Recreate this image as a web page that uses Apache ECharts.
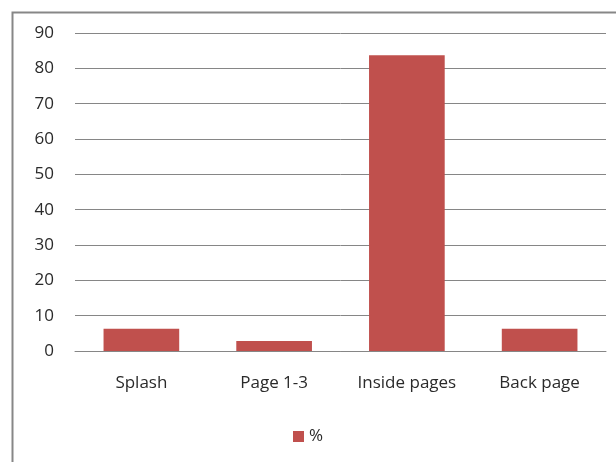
<!DOCTYPE html>
<html>
<head>
<meta charset="utf-8">
<script src="https://cdn.jsdelivr.net/npm/echarts@6/dist/echarts.min.js"></script>
<style>
html,body{margin:0;padding:0;background:#fff;}
#c{width:616px;height:462px;}
</style>
</head>
<body>
<div id="c"></div>
<script>
const categories = ['Splash', 'Page 1-3', 'Inside pages', 'Back page'];
const values = [6.3, 2.8, 83.7, 6.3];
const seriesName = '%';
const yMin = 0, yMax = 90, yStep = 10;

const chart = echarts.init(document.getElementById('c'));
chart.setOption({
  animation: false,
  backgroundColor: '#fff',
  textStyle: { fontFamily: 'Open Sans' },
  graphic: [{
    type: 'rect', left: 10, top: 10,
    shape: { width: 640, height: 500 },
    style: { fill: 'none', stroke: '#878787', lineWidth: 2 },
    silent: true
  }],
  grid: { left: 75, right: 10, top: 33, bottom: 111 },
  legend: {
    data: [seriesName], bottom: 12, left: 'center',
    itemWidth: 11, itemHeight: 11, icon: 'rect', itemGap: 6,
    textStyle: { fontSize: 17, color: '#2a2a2a', fontFamily: 'Open Sans' }
  },
  xAxis: {
    type: 'category', data: categories,
    axisLine: { lineStyle: { color: '#868686' } },
    axisTick: { show: false },
    axisLabel: { fontSize: 17, color: '#2a2a2a', margin: 24, fontFamily: 'Open Sans' }
  },
  yAxis: {
    type: 'value', min: yMin, max: yMax, interval: yStep,
    axisLine: { show: false }, axisTick: { show: false },
    axisLabel: { fontSize: 17, color: '#2a2a2a', margin: 21, fontFamily: 'Open Sans' },
    splitLine: { lineStyle: { color: '#868686', width: 1 } }
  },
  series: [{
    name: seriesName, type: 'bar', data: values,
    barWidth: '57%',
    itemStyle: { color: '#C0504D' }
  }]
});
</script>
</body>
</html>
